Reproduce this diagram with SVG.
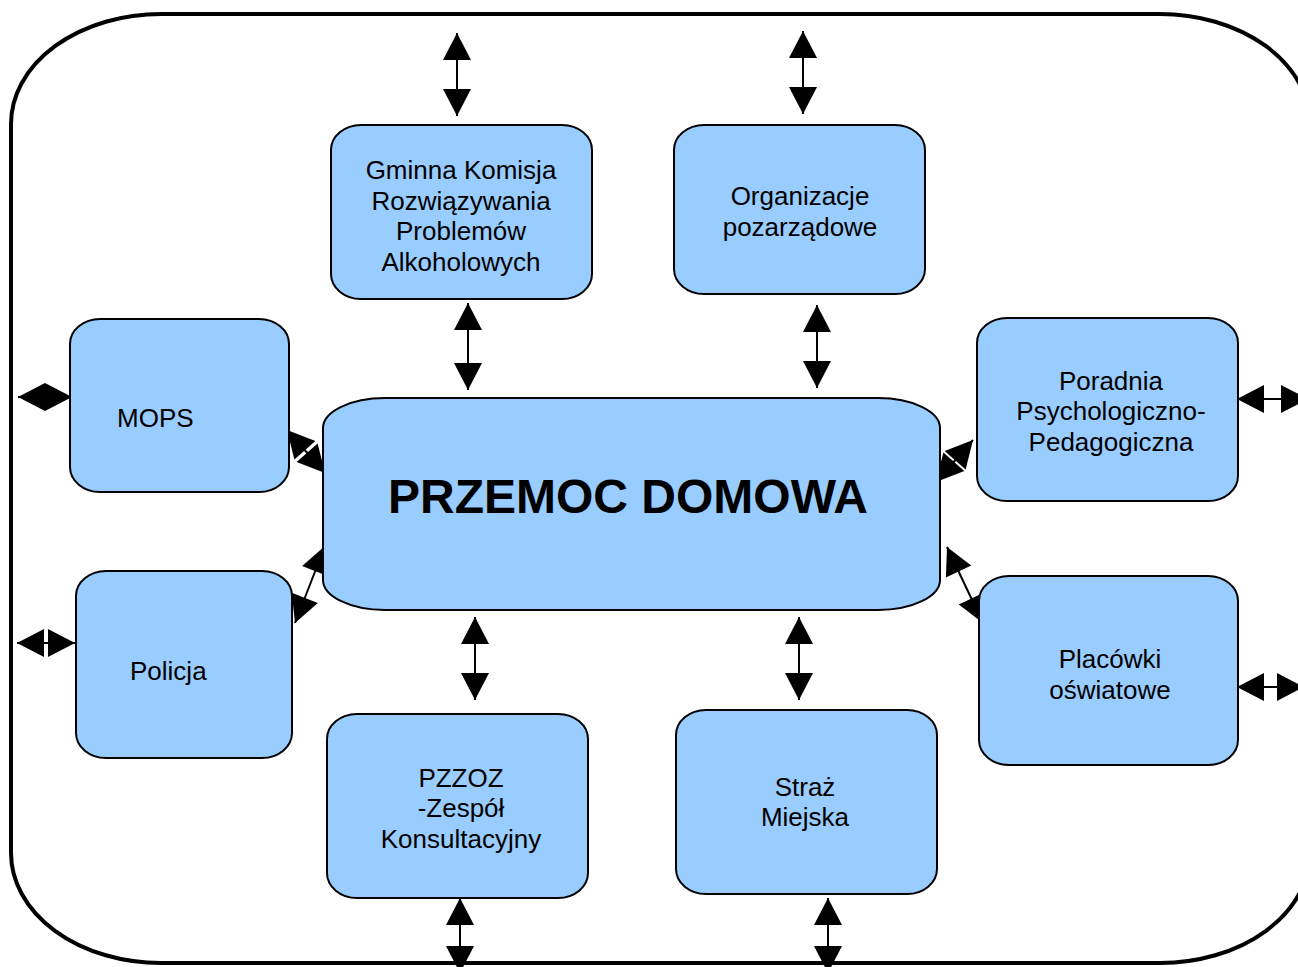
<svg xmlns="http://www.w3.org/2000/svg" width="1298" height="967" viewBox="0 0 1298 967">
<defs>
<style>
.box{fill:#99ccff;stroke:#000;stroke-width:2}
.t{font-family:"Liberation Sans",Arial,sans-serif;font-size:26px;fill:#000;text-anchor:middle}
.tl{font-family:"Liberation Sans",Arial,sans-serif;font-size:26px;fill:#000}
.big{font-family:"Liberation Sans",Arial,sans-serif;font-size:48px;font-weight:bold;fill:#000;text-anchor:middle}
.c{stroke:#000;stroke-width:2;fill:none;marker-start:url(#ah);marker-end:url(#ah)}
</style>
<marker id="ah" markerUnits="userSpaceOnUse" markerWidth="28" markerHeight="28" refX="27" refY="14" orient="auto-start-reverse" overflow="visible">
<path d="M0,0 L27,14 L0,28 z" fill="#000"/>
</marker>
</defs>
<rect id="frame" x="11" y="14" width="1299" height="949" rx="150" ry="110" fill="#fff" stroke="#000" stroke-width="4"/>
<g id="connectors">
<line class="c" x1="457" y1="33" x2="457" y2="116"/>
<line class="c" x1="803" y1="31" x2="803" y2="114"/>
<line class="c" x1="468" y1="303" x2="468" y2="390"/>
<line class="c" x1="817" y1="305" x2="817" y2="388"/>
<line class="c" x1="475" y1="617" x2="475" y2="700"/>
<line class="c" x1="799" y1="617" x2="799" y2="700"/>
<line class="c" x1="460" y1="898" x2="460" y2="973"/>
<line class="c" x1="828" y1="898" x2="828" y2="973"/>
<line class="c" x1="18" y1="397" x2="72" y2="397"/>
<line class="c" x1="17" y1="643" x2="75" y2="643"/>
<line class="c" x1="1237" y1="399" x2="1308" y2="399"/>
<line class="c" x1="1237" y1="687" x2="1304" y2="687"/>
<line class="c" x1="287" y1="430" x2="325" y2="473"/>
<line class="c" x1="295" y1="623" x2="325" y2="546"/>
<line class="c" x1="936" y1="482" x2="973" y2="440"/>
<line class="c" x1="947" y1="547" x2="983" y2="623"/>
</g>
<g id="gminna">
<rect class="box" x="331" y="125" width="261" height="174" rx="30" ry="25"/>
<text class="t" x="461" y="179">Gminna Komisja</text>
<text class="t" x="461" y="210">Rozwiązywania</text>
<text class="t" x="461" y="240">Problemów</text>
<text class="t" x="461" y="271">Alkoholowych</text>
</g>
<g id="organizacje">
<rect class="box" x="674" y="125" width="251" height="169" rx="30" ry="25"/>
<text class="t" x="800" y="205">Organizacje</text>
<text class="t" x="800" y="236">pozarządowe</text>
</g>
<g id="mops">
<rect class="box" x="70" y="319" width="219" height="173" rx="30" ry="25"/>
<text class="tl" x="117" y="427">MOPS</text>
</g>
<g id="poradnia">
<rect class="box" x="977" y="318" width="261" height="183" rx="30" ry="25"/>
<text class="t" x="1111" y="390">Poradnia</text>
<text class="t" x="1111" y="420">Psychologiczno-</text>
<text class="t" x="1111" y="451">Pedagogiczna</text>
</g>
<g id="przemoc">
<rect class="box" x="323" y="398" width="617" height="212" rx="62" ry="30"/>
<text class="big" x="628" y="513">PRZEMOC DOMOWA</text>
</g>
<g id="policja">
<rect class="box" x="76" y="571" width="216" height="187" rx="30" ry="25"/>
<text class="tl" x="130" y="680">Policja</text>
</g>
<g id="placowki">
<rect class="box" x="979" y="576" width="259" height="189" rx="30" ry="25"/>
<text class="t" x="1110" y="668">Placówki</text>
<text class="t" x="1110" y="699">oświatowe</text>
</g>
<g id="pzzoz">
<rect class="box" x="327" y="714" width="261" height="184" rx="30" ry="25"/>
<text class="t" x="461" y="787">PZZOZ</text>
<text class="t" x="461" y="817">-Zespół</text>
<text class="t" x="461" y="848">Konsultacyjny</text>
</g>
<g id="straz">
<rect class="box" x="676" y="710" width="261" height="184" rx="30" ry="25"/>
<text class="t" x="805" y="796">Straż</text>
<text class="t" x="805" y="826">Miejska</text>
</g>
</svg>
